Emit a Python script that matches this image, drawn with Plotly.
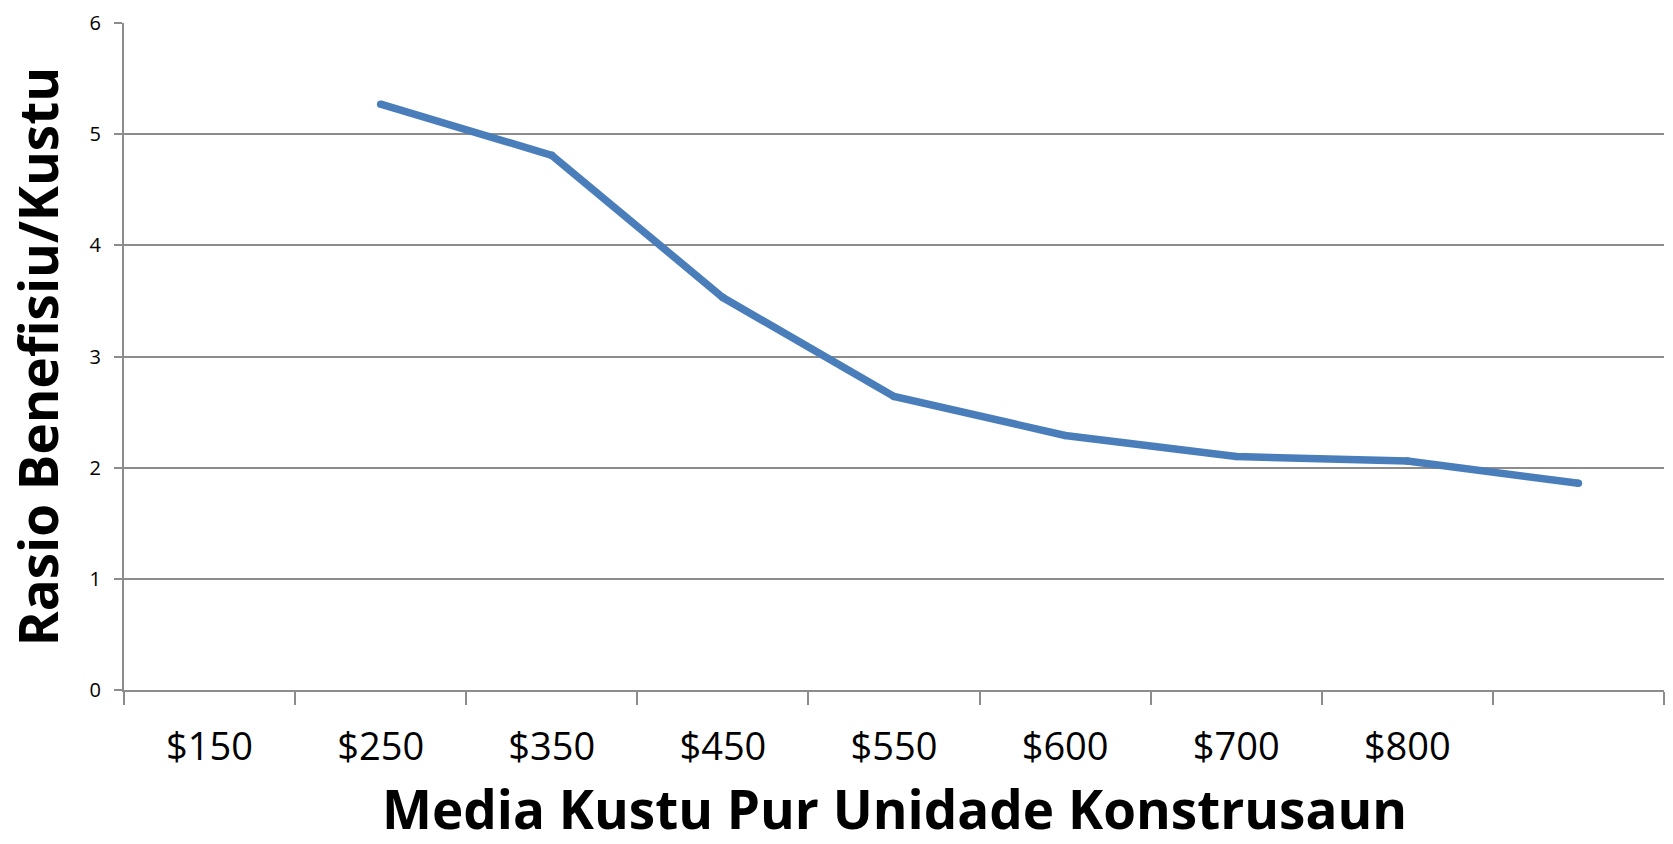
import plotly.graph_objects as go

categories = ["$150", "$250", "$350", "$450", "$550", "$600", "$700", "$800", " "]
ratio = [None, 5.27, 4.81, 3.53, 2.64, 2.29, 2.10, 2.06, 1.86]
y_ticks = [0, 1, 2, 3, 4, 5, 6]

x_title = "Media Kustu Pur Unidade Konstrusaun"
y_title = "Rasio Benefisiu/Kustu"

fig = go.Figure()
fig.add_trace(go.Scatter(
    x=categories, y=ratio, mode="lines+markers",
    line=dict(color="#4A7EBB", width=7.5),
    marker=dict(color="#4A7EBB", size=7.5, line=dict(width=0)),
    connectgaps=False, hoverinfo="skip",
))

grid = "#8C8C8C"
fig.update_layout(
    width=1673, height=844,
    margin=dict(l=124, r=9, t=20, b=154),
    paper_bgcolor="white", plot_bgcolor="white",
    showlegend=False,
    font=dict(family="Open Sans", color="black"),
    xaxis=dict(
        type="category", categoryorder="array", categoryarray=categories,
        range=[-0.5, 8.5], showgrid=False, zeroline=False,
        showline=True, linecolor=grid, linewidth=2,
        ticks="outside", tickson="boundaries", ticklen=13, tickwidth=2, tickcolor=grid,
        tickfont=dict(size=38, family="Open Sans", color="black"),
        ticklabelstandoff=22,
    ),
    yaxis=dict(
        range=[0, 6], tickvals=y_ticks, showgrid=True, gridcolor=grid, gridwidth=2,
        zeroline=False, showline=True, linecolor=grid, linewidth=2,
        ticks="outside", ticklen=8, tickwidth=2, tickcolor=grid,
        tickfont=dict(size=20, family="Open Sans", color="black"),
        ticklabelstandoff=9,
    ),
    annotations=[
        dict(text=x_title, xref="paper", yref="paper", x=0.5, y=-0.236, yanchor="bottom",
             xanchor="center", showarrow=False,
             font=dict(size=53, family="Open Sans", color="black", weight="bold")),
        dict(text=y_title, xref="paper", yref="paper", x=-0.056, y=0.5, xanchor="center",
             yanchor="middle", textangle=-90, showarrow=False,
             font=dict(size=53, family="Open Sans", color="black", weight="bold")),
    ],
)
fig.write_html("out.html", config={"displayModeBar": False},
               post_script="document.body.style.margin='0';")
